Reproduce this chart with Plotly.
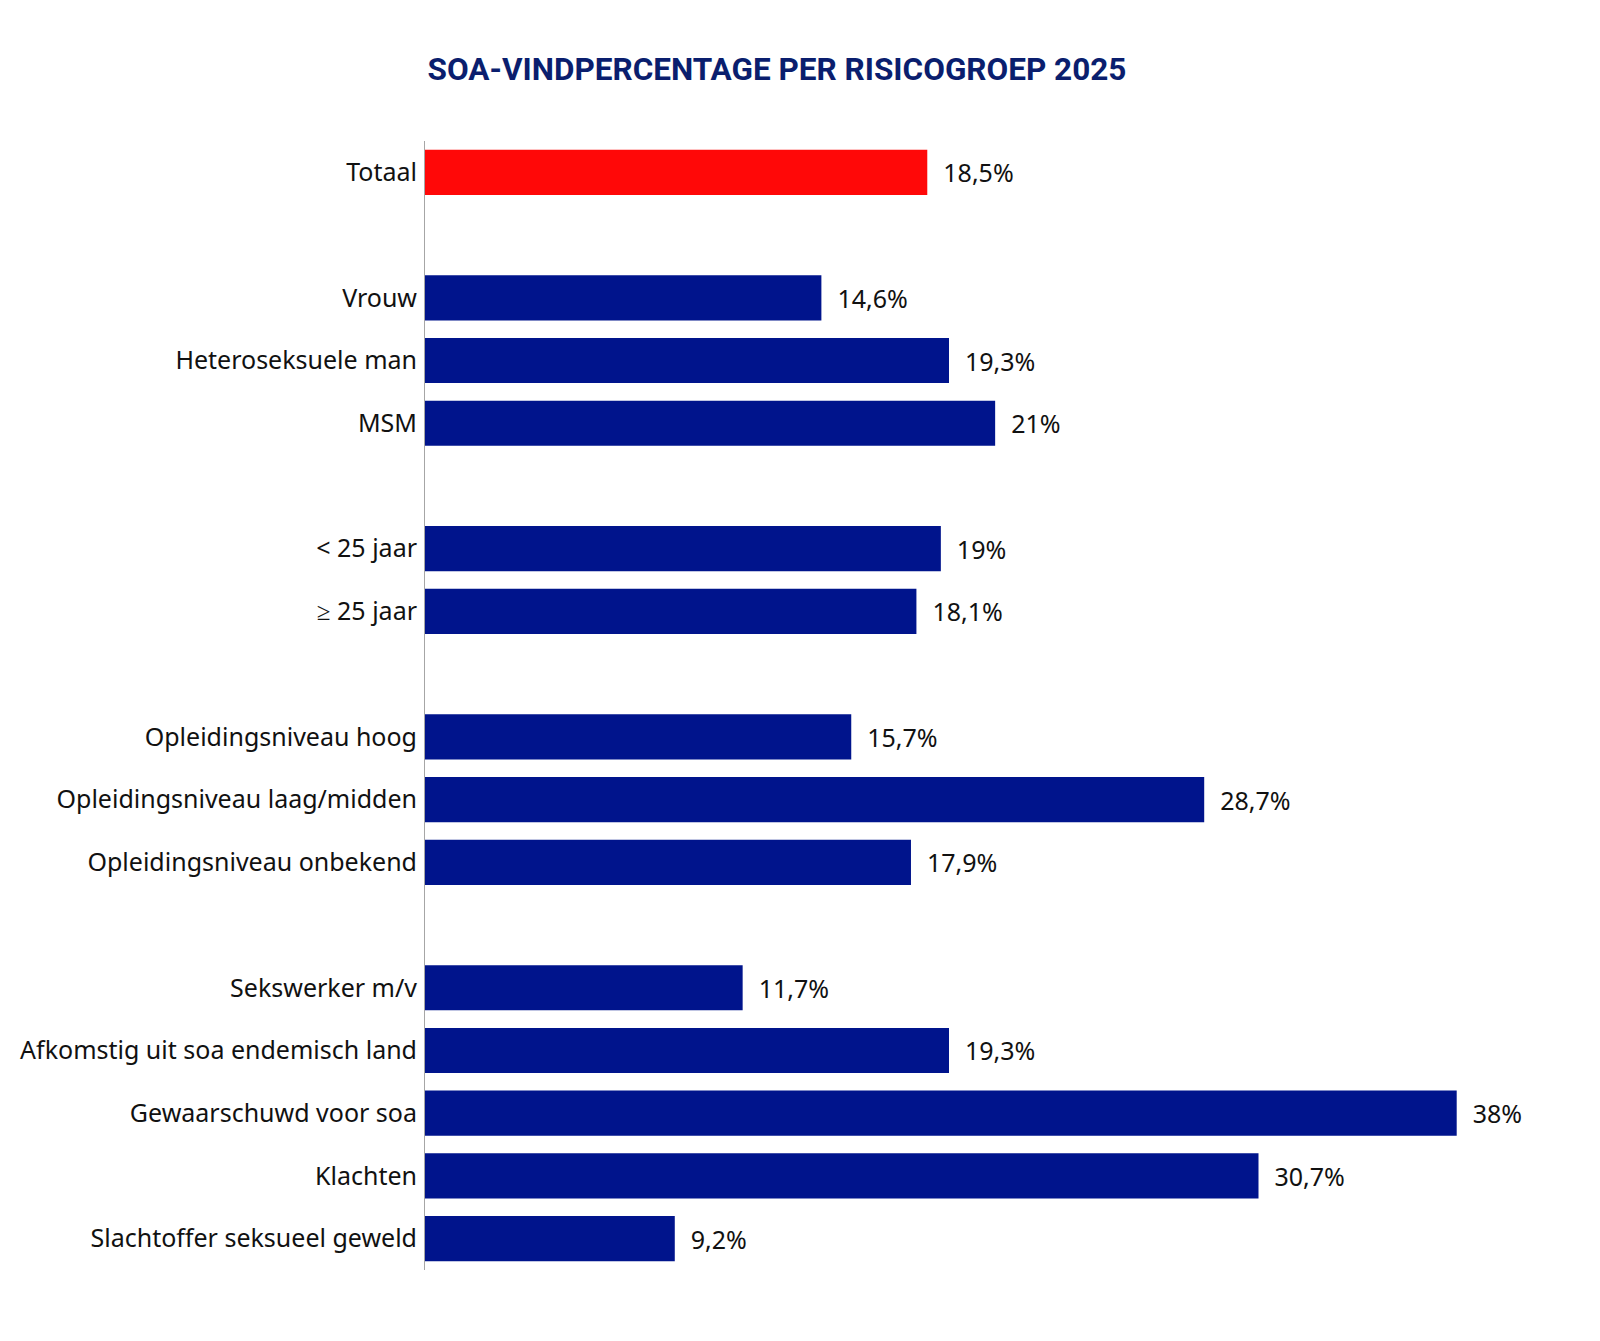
import plotly.graph_objects as go

categories = [
    "Totaal", " ",
    "Vrouw", "Heteroseksuele man", "MSM", "  ",
    "< 25 jaar", "≥ 25 jaar", "   ",
    "Opleidingsniveau hoog", "Opleidingsniveau laag/midden", "Opleidingsniveau onbekend", "    ",
    "Sekswerker m/v", "Afkomstig uit soa endemisch land", "Gewaarschuwd voor soa",
    "Klachten", "Slachtoffer seksueel geweld",
]
values = [
    18.5, None,
    14.6, 19.3, 21.0, None,
    19.0, 18.1, None,
    15.7, 28.7, 17.9, None,
    11.7, 19.3, 38.0, 30.7, 9.2,
]
value_labels = [
    "18,5%", "",
    "14,6%", "19,3%", "21%", "",
    "19%", "18,1%", "",
    "15,7%", "28,7%", "17,9%", "",
    "11,7%", "19,3%", "38%", "30,7%", "9,2%",
]

NAVY = "#00148C"
RED = "#FF0808"
colors = [RED if c == "Totaal" else NAVY for c in categories]

fig = go.Figure(go.Bar(
    x=values,
    y=categories,
    orientation="h",
    marker=dict(color=colors, line=dict(width=0)),
    text=value_labels,
    texttemplate="  %{text}",
    textposition="outside",
    textfont=dict(family="Noto Sans", size=25, color="#111111"),
    cliponaxis=False,
    hoverinfo="skip",
))

fig.update_layout(
    width=1600, height=1341,
    margin=dict(l=425, r=89, t=141, b=71),
    paper_bgcolor="white", plot_bgcolor="white",
    bargap=0.28,
    showlegend=False,
    title=dict(
        text="<b>SOA-VINDPERCENTAGE PER RISICOGROEP 2025</b>",
        font=dict(family="Roboto", size=31.5, color="#0A1E6E"),
        x=777/1600, xanchor="center", xref="container",
        y=1-69/1341, yanchor="middle", yref="container",
    ),
    xaxis=dict(visible=False, range=[0, 40], fixedrange=True),
    yaxis=dict(
        type="category",
        autorange="reversed",
        showline=True, linecolor="#A6A6A6", linewidth=1,
        showgrid=False, ticks="", zeroline=False,
        tickfont=dict(family="Noto Sans", size=25, color="#111111"),
        ticklabelstandoff=2,
    ),
)

fig.write_html("out.html")
